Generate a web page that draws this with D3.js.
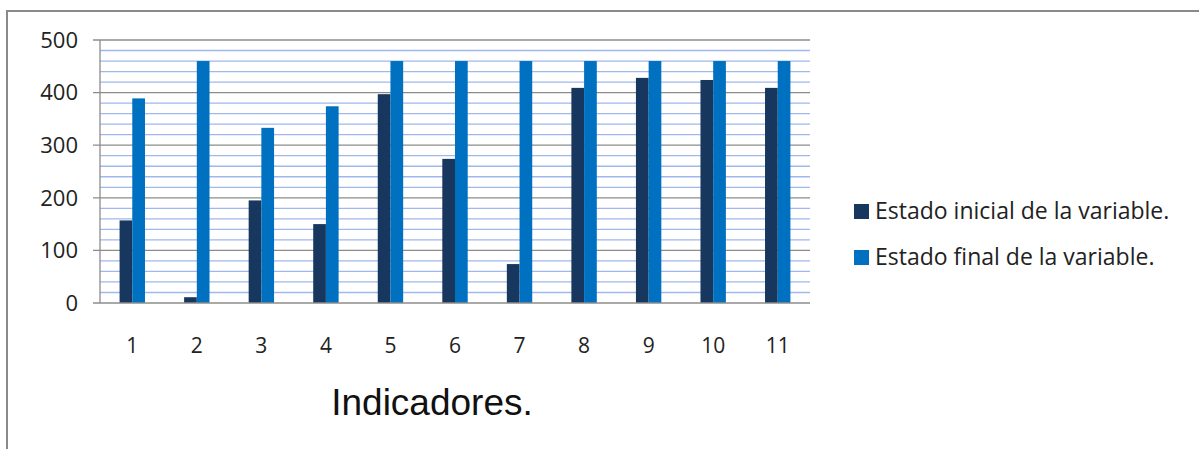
<!DOCTYPE html>
<html>
<head>
<meta charset="utf-8">
<script src="https://cdn.jsdelivr.net/npm/d3@7"></script>
<style>
  body { margin: 0; background: #fff; }
  svg { display: block; }
</style>
</head>
<body>
<svg id="chart"></svg>
<script>
// datos
var categories = ["1", "2", "3", "4", "5", "6", "7", "8", "9", "10", "11"];
var inicial = [157, 11, 195, 150, 397, 274, 74, 409, 428, 424, 409];
var final = [389, 460, 333, 374, 460, 460, 460, 460, 460, 460, 460];
var seriesNames = ["Estado inicial de la variable.", "Estado final de la variable."];
var yTicks = [0, 100, 200, 300, 400, 500];

var W = 1199, H = 449;
var svg = d3.select("#chart").attr("width", W).attr("height", H);

// marco exterior
svg.append("line").attr("x1", 7).attr("x2", 7).attr("y1", 10).attr("y2", H)
  .attr("stroke", "#8a8a8a").attr("stroke-width", 2);
svg.append("line").attr("x1", 6).attr("x2", W).attr("y1", 11).attr("y2", 11)
  .attr("stroke", "#8a8a8a").attr("stroke-width", 2);

var pLeft = 100, pRight = 810, pTop = 40, pBottom = 303;

var x = d3.scaleBand().domain(categories).range([pLeft, pRight]);
var y = d3.scaleLinear().domain([0, 500]).range([pBottom, pTop]);

// lineas secundarias cada 20
var minor = d3.range(0, 501, 20).filter(function (d) { return d % 100 != 0; });
svg.selectAll(".minor").data(minor).enter().append("line")
  .attr("x1", pLeft).attr("x2", pRight)
  .attr("y1", function (d) { return y(d); }).attr("y2", function (d) { return y(d); })
  .attr("stroke", "#9fb8ee").attr("stroke-width", 1.3);

// lineas principales
svg.selectAll(".major").data(yTicks.slice(1)).enter().append("line")
  .attr("x1", pLeft - 7).attr("x2", pRight)
  .attr("y1", function (d) { return y(d); }).attr("y2", function (d) { return y(d); })
  .attr("stroke", "#8c8c8c").attr("stroke-width", 1.3);

// eje y
svg.append("line").attr("x1", pLeft).attr("x2", pLeft).attr("y1", pTop).attr("y2", pBottom)
  .attr("stroke", "#8c8c8c").attr("stroke-width", 1.3);

var barW = 12.7;
var groups = svg.selectAll(".grp").data(categories).enter().append("g");
groups.append("rect")
  .attr("x", function (d) { return x(d) + x.bandwidth() / 2 - barW; })
  .attr("width", barW)
  .attr("y", function (d, i) { return y(inicial[i]); })
  .attr("height", function (d, i) { return y(0) - y(inicial[i]); })
  .attr("fill", "#17375e");
groups.append("rect")
  .attr("x", function (d) { return x(d) + x.bandwidth() / 2; })
  .attr("width", barW)
  .attr("y", function (d, i) { return y(final[i]); })
  .attr("height", function (d, i) { return y(0) - y(final[i]); })
  .attr("fill", "#0070c0");

// eje x
svg.append("line").attr("x1", pLeft - 7).attr("x2", pRight).attr("y1", pBottom).attr("y2", pBottom)
  .attr("stroke", "#8c8c8c").attr("stroke-width", 1.3);

var font = "'Open Sans', 'Noto Sans', sans-serif";
svg.selectAll(".yl").data(yTicks).enter().append("text")
  .attr("x", 78).attr("y", function (d) { return y(d); })
  .attr("dy", "0.35em").attr("text-anchor", "end")
  .attr("font-family", font).attr("font-size", 22).attr("fill", "#222")
  .text(function (d) { return d; });

svg.selectAll(".xl").data(categories).enter().append("text")
  .attr("x", function (d) { return x(d) + x.bandwidth() / 2; }).attr("y", 346)
  .attr("dy", "0.35em").attr("text-anchor", "middle")
  .attr("font-family", font).attr("font-size", 21).attr("fill", "#222")
  .text(function (d) { return d; });

svg.append("text").attr("x", 432).attr("y", 402).attr("dy", "0.35em")
  .attr("text-anchor", "middle")
  .attr("font-family", "'Liberation Sans', Arial, sans-serif").attr("font-size", 37)
  .attr("fill", "#111").text("Indicadores.");

// leyenda
var colors = ["#17375e", "#0070c0"];
var leg = svg.selectAll(".leg").data(seriesNames).enter().append("g")
  .attr("transform", function (d, i) { return "translate(854," + (211 + i * 46) + ")"; });
leg.append("rect").attr("x", 0).attr("y", -7).attr("width", 15).attr("height", 15)
  .attr("fill", function (d, i) { return colors[i]; });
leg.append("text").attr("x", 21).attr("dy", "0.35em")
  .attr("font-family", font).attr("font-size", 23).attr("fill", "#222")
  .text(function (d) { return d; });
</script>
</body>
</html>
